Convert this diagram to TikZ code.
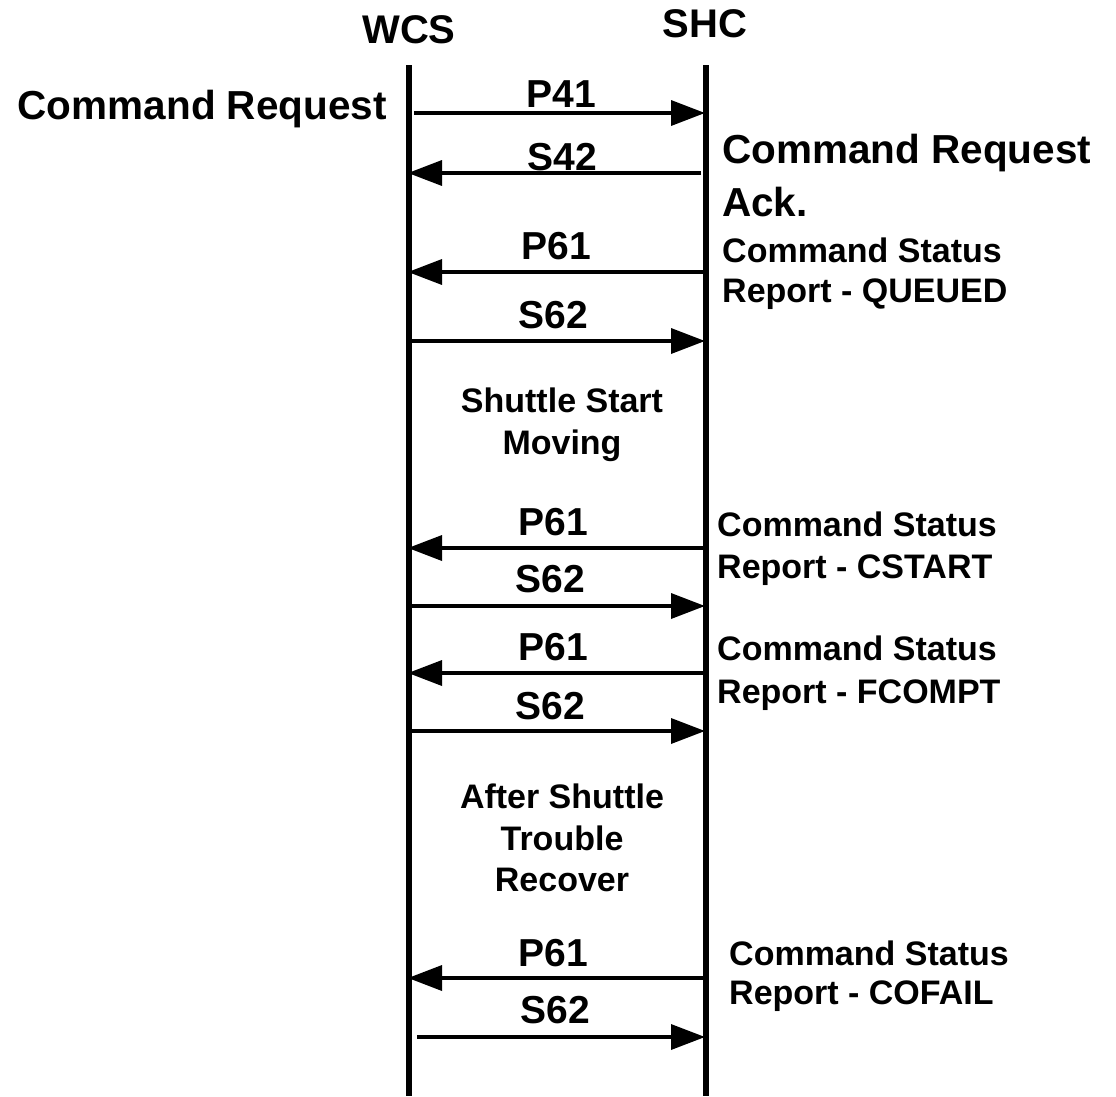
\documentclass[tikz,border=0pt]{standalone}
\usepackage{fontspec}
\setmainfont{Liberation Sans}
\usetikzlibrary{arrows.meta}
\begin{document}
\begin{tikzpicture}[x=1pt,y=-1pt,
  lifeline/.style={line width=6pt},
  msg/.style={line width=3.5pt,-{Triangle[length=34pt,width=25pt]}},
  head/.style={font=\bfseries\fontsize{40}{48}\selectfont,inner sep=0pt,anchor=base},
  big/.style={font=\bfseries\fontsize{40.5}{48}\selectfont,inner sep=0pt},
  lbl/.style={font=\bfseries\fontsize{39}{46}\selectfont,inner sep=0pt,anchor=base},
  note/.style={font=\bfseries\fontsize{34}{41}\selectfont,inner sep=0pt,anchor=base west},
  event/.style={font=\bfseries\fontsize{34}{41}\selectfont,inner sep=0pt,anchor=base}]
\path[use as bounding box] (0,0) rectangle (1116,1096);

% headers and lifelines
\node[head] (wcs) at (409,43) {WCS};
\node[head] (shc) at (705,37) {SHC};
\coordinate (wtop) at (409,65);
\coordinate (wbot) at (409,1096);
\coordinate (stop) at (706,65);
\coordinate (sbot) at (706,1096);
\draw[lifeline] (wtop) -- (wbot);
\draw[lifeline] (stop) -- (sbot);

% anchor points of messages
\coordinate (w1) at (414,113);  \coordinate (s1) at (705,113);
\coordinate (w2) at (408,173);  \coordinate (s2) at (701,173);
\coordinate (w3) at (408,272);  \coordinate (s3) at (706,272);
\coordinate (w4) at (409,341);  \coordinate (s4) at (705,341);
\coordinate (w5) at (408,548);  \coordinate (s5) at (706,548);
\coordinate (w6) at (409,606);  \coordinate (s6) at (705,606);
\coordinate (w7) at (408,673);  \coordinate (s7) at (706,673);
\coordinate (w8) at (409,731);  \coordinate (s8) at (705,731);
\coordinate (w9) at (408,978);  \coordinate (s9) at (706,978);
\coordinate (w10) at (417,1037); \coordinate (s10) at (705,1037);

\draw[msg] (w1) -- (s1);
\draw[msg] (s2) -- (w2);
\draw[msg] (s3) -- (w3);
\draw[msg] (w4) -- (s4);
\draw[msg] (s5) -- (w5);
\draw[msg] (w6) -- (s6);
\draw[msg] (s7) -- (w7);
\draw[msg] (w8) -- (s8);
\draw[msg] (s9) -- (w9);
\draw[msg] (w10) -- (s10);

% message labels
\node[lbl] (l1) at (561,107) {P41};
\node[lbl] (l2) at (562,170) {S42};
\node[lbl] (l3) at (556,259) {P61};
\node[lbl] (l4) at (553,328) {S62};
\node[lbl] (l5) at (553,535) {P61};
\node[lbl] (l6) at (550,592) {S62};
\node[lbl] (l7) at (553,660) {P61};
\node[lbl] (l8) at (550,719) {S62};
\node[lbl] (l9) at (553,966) {P61};
\node[lbl] (l10) at (555,1023) {S62};

% left label
\node[big,anchor=base east] (req) at (387,119) {Command Request};

% right labels
\node[big,anchor=base west] (ack1) at (722,163) {Command Request};
\node[big,anchor=base west] (ack2) at (722,216) {Ack.};
\node[note] (q1) at (722,262) {Command Status};
\node[note] (q2) at (722,302) {Report - QUEUED};
\node[note] (c1) at (717,536) {Command Status};
\node[note] (c2) at (717,578) {Report - CSTART};
\node[note] (f1) at (717,660) {Command Status};
\node[note] (f2) at (717,703) {Report - FCOMPT};
\node[note] (o1) at (729,965) {Command Status};
\node[note] (o2) at (729,1004) {Report - COFAIL};

% events between lifelines
\node[event] (e1) at (562,412) {Shuttle Start};
\node[event] (e2) at (562,454) {Moving};
\node[event] (r1) at (562,808) {After Shuttle};
\node[event] (r2) at (562,850) {Trouble};
\node[event] (r3) at (562,891) {Recover};
\end{tikzpicture}
\end{document}
